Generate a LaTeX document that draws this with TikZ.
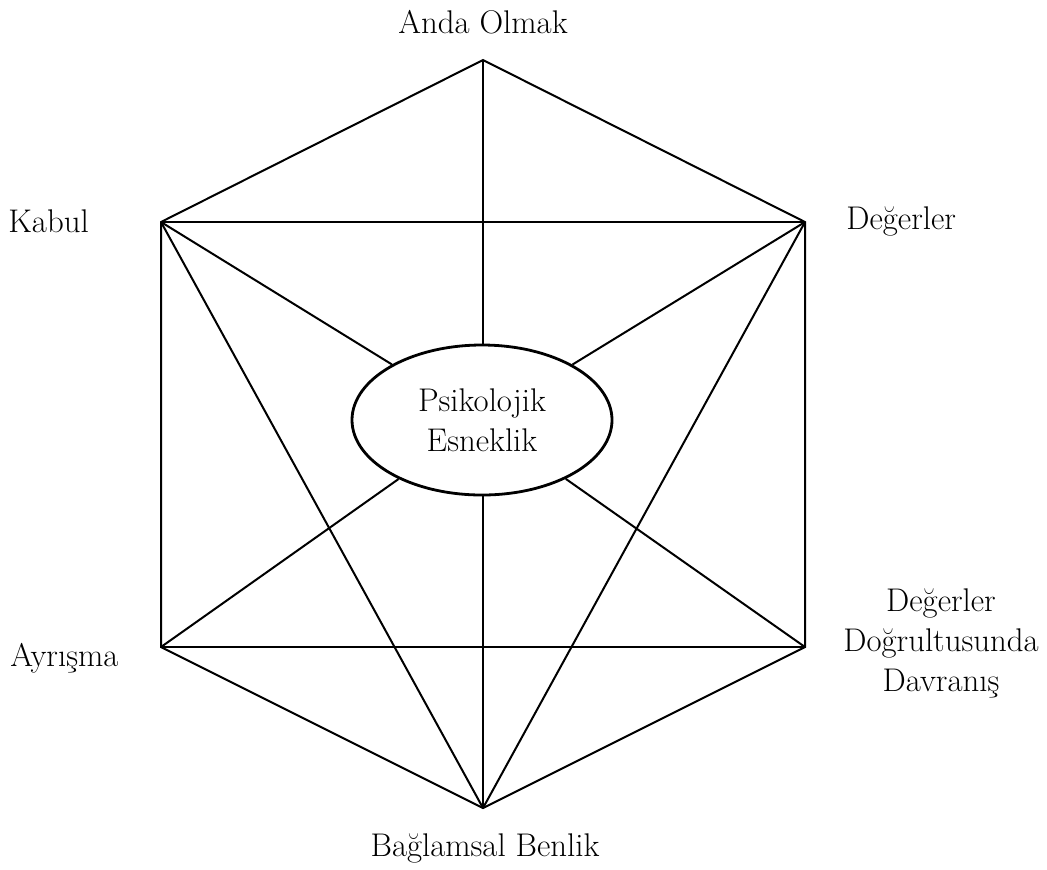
\documentclass[tikz,border=0pt]{standalone}
\usetikzlibrary{shapes.geometric}
\begin{document}
\begin{tikzpicture}[x=0.5pt,y=-0.5pt,
  edge/.style={line width=1pt,line join=miter},
  lbl/.style={font=\fontsize{16.4}{20}\selectfont,align=center,inner sep=0pt},
  core/.style={ellipse,draw,line width=1.4pt,minimum width=130pt,minimum height=75pt,inner sep=0pt,align=center,font=\fontsize{16.4}{20}\selectfont}]
\useasboundingbox (0,0) rectangle (1047,869);
\coordinate (T) at (483,60);
\coordinate (UL) at (161,222);
\coordinate (UR) at (805,222);
\coordinate (LL) at (161,647);
\coordinate (LR) at (805,647);
\coordinate (B) at (483,808);
\node[core] (E) at (482,420) {Psikolojik\\Esneklik};
% hexagon
\draw[edge] (T) -- (UR) -- (LR) -- (B) -- (LL) -- (UL) -- cycle;
% chords
\draw[edge] (UL) -- (UR);
\draw[edge] (LL) -- (LR);
\draw[edge] (UL) -- (B);
\draw[edge] (UR) -- (B);
% spokes
\draw[edge] (T) -- (T |- E.north);
\draw[edge] (B) -- (B |- E.south);
\draw[edge] (UL) -- (E);
\draw[edge] (UR) -- (E);
\draw[edge] (LL) -- (E);
\draw[edge] (LR) -- (E);
% labels
\node[lbl] (lT) at (483,22) {Anda Olmak};
\node[lbl,anchor=west] (lUL) at (8,221) {Kabul};
\node[lbl,anchor=west] (lUR) at (846,221) {Değerler};
\node[lbl,anchor=west] (lLL) at (10,658) {Ayrışma};
\node[lbl] (lLR) at (941,643) {Değerler\\Doğrultusunda\\Davranış};
\node[lbl] (lB) at (485,848) {Bağlamsal Benlik};
\end{tikzpicture}
\end{document}
